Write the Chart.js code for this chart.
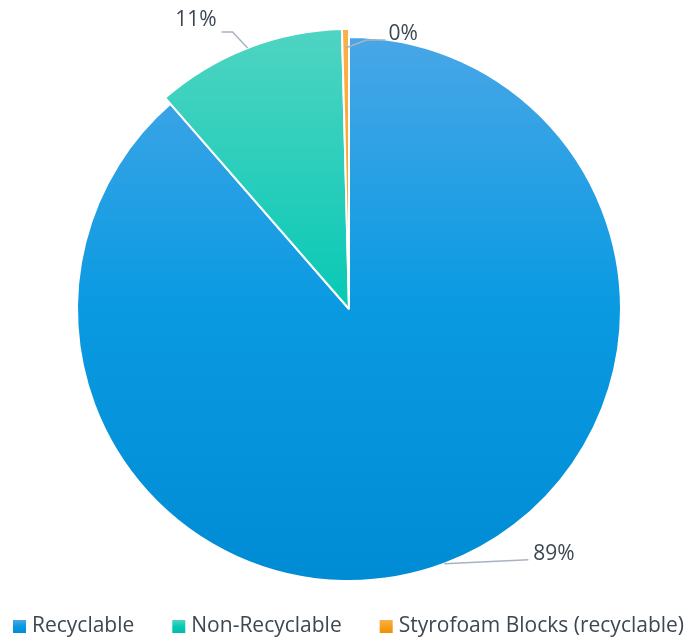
<!DOCTYPE html>
<html>
<head>
<meta charset="utf-8">
<script src="https://cdn.jsdelivr.net/npm/chart.js@4.4.1/dist/chart.umd.min.js"></script>
<style>
  html, body { margin: 0; padding: 0; background: #ffffff; }
  #wrap { width: 688px; height: 639px; position: relative; }
</style>
</head>
<body>
<div id="wrap"><canvas id="waste-pie"></canvas></div>
<script>
// data (share of waste, %)
var categories = ['Recyclable', 'Non-Recyclable', 'Styrofoam Blocks (recyclable)'];
var shares = [88.6, 11.0, 0.4];
var percentLabels = ['89%', '11%', '0%'];

var FONT = '"Open Sans", "DejaVu Sans", sans-serif';
var TEXT_COLOR = '#3d4752';

// gradient stops per slice (top, middle, bottom)
var sliceStops = [
    ['#4aa7e7', '#0a9ae2', '#008cd4'],
    ['#4fd4c2', '#08c9b5', '#00bca8'],
    ['#fbb04a', '#f5a020', '#ee9000']
];

function makeGradient(ctx, y0, y1, stops) {
    var g = ctx.createLinearGradient(0, y0, 0, y1);
    g.addColorStop(0, stops[0]);
    g.addColorStop(0.5, stops[1]);
    g.addColorStop(1, stops[2]);
    return g;
}

function sliceColor(context) {
    var chart = context.chart;
    var area = chart.chartArea;
    if (!area) return sliceStops[context.dataIndex][1];
    return makeGradient(chart.ctx, area.top - 8, area.bottom, sliceStops[context.dataIndex]);
}

// Excel drew the two small slices a bit larger than the big one
var biggerSlices = {
    id: 'biggerSlices',
    afterDatasetsUpdate: function(chart) {
        var arcs = chart.getDatasetMeta(0).data;
        arcs[1].outerRadius += 8;
        arcs[2].outerRadius += 8;
    }
};

// label offsets relative to the slice's outer mid point: line start, elbow, line end, text point
var labelLayout = [
    { start: [0, 0], elbow: [84, -4], end: [84, -4], text: [89, -10], align: 'left' },
    { start: [0, 0], elbow: [-15, -16], end: [-26, -16], text: [-31, -28], align: 'right' },
    { start: [0, 19], elbow: [21, 11], end: [40, 11], text: [43, 5], align: 'left' }
];

var outsideLabels = {
    id: 'outsideLabels',
    afterDatasetsDraw: function(chart) {
        var ctx = chart.ctx;
        var arcs = chart.getDatasetMeta(0).data;
        ctx.save();
        for (var i = 0; i < arcs.length; i++) {
            var a = arcs[i];
            var mid = (a.startAngle + a.endAngle) / 2;
            var ax = a.x + Math.cos(mid) * a.outerRadius;
            var ay = a.y + Math.sin(mid) * a.outerRadius;
            var L = labelLayout[i];
            ctx.strokeStyle = '#a9b3bf';
            ctx.lineWidth = 1.5;
            ctx.beginPath();
            ctx.moveTo(ax + L.start[0], ay + L.start[1]);
            ctx.lineTo(ax + L.elbow[0], ay + L.elbow[1]);
            ctx.lineTo(ax + L.end[0], ay + L.end[1]);
            ctx.stroke();
            ctx.fillStyle = TEXT_COLOR;
            ctx.font = '21px ' + FONT;
            ctx.textAlign = L.align;
            ctx.textBaseline = 'middle';
            ctx.fillText(percentLabels[i], ax + L.text[0], ay + L.text[1]);
        }
        ctx.restore();
    }
};

var bottomLegend = {
    id: 'bottomLegend',
    afterDraw: function(chart) {
        var ctx = chart.ctx;
        ctx.save();
        ctx.font = '21px ' + FONT;
        var box = 13, gapText = 6, gapItem = 38;
        var x = 13;
        var y = 626;
        for (var j = 0; j < categories.length; j++) {
            var w = ctx.measureText(categories[j]).width;
            ctx.fillStyle = makeGradient(ctx, y - 6, y + 7, sliceStops[j]);
            ctx.fillRect(x, y - 6, box, box);
            ctx.fillStyle = TEXT_COLOR;
            ctx.textAlign = 'left';
            ctx.textBaseline = 'middle';
            ctx.fillText(categories[j], x + box + gapText, y);
            x += box + gapText + w + gapItem;
        }
        ctx.restore();
    }
};

function renderPieChart() {
    var ctx = document.getElementById('waste-pie').getContext('2d');
    var myChart = new Chart(ctx, {
        type: 'pie',
        data: {
            labels: categories,
            datasets: [{
                data: shares,
                backgroundColor: sliceColor,
                borderColor: '#ffffff',
                borderWidth: 2
            }]
        },
        options: {
            responsive: true,
            maintainAspectRatio: false,
            animation: false,
            layout: { padding: { left: 76, right: 66, top: 36, bottom: 57 } },
            plugins: {
                legend: { display: false },
                tooltip: { enabled: false }
            }
        },
        plugins: [biggerSlices, outsideLabels, bottomLegend]
    });
}

window.onload = renderPieChart;
</script>
</body>
</html>
